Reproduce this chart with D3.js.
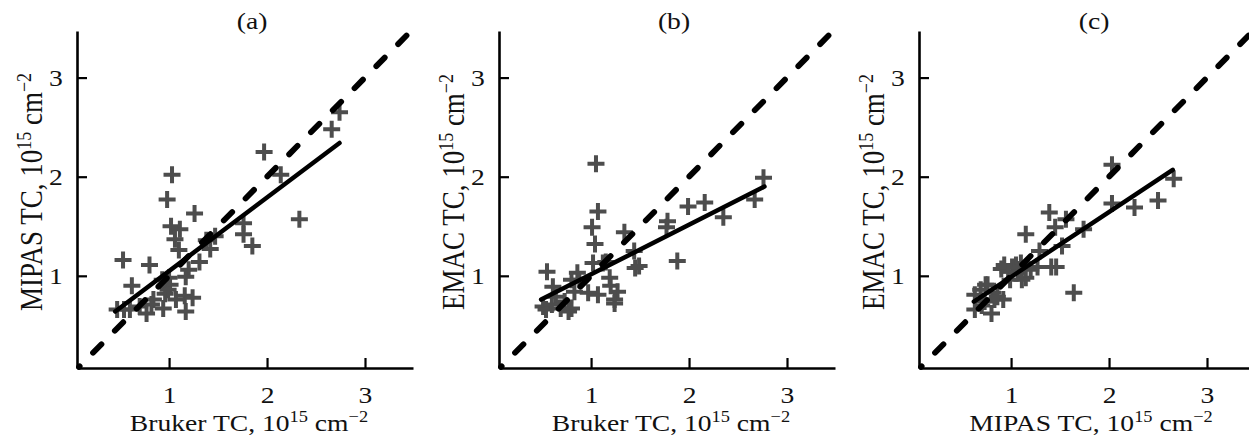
<!DOCTYPE html>
<html>
<head>
<meta charset="utf-8">
<script src="https://cdn.jsdelivr.net/npm/d3@7"></script>
<style>
  html, body { margin: 0; padding: 0; background: #fff; }
  svg { display: block; }
  text { font-family: "Liberation Serif", "Times New Roman", serif; fill: #111; }
</style>
</head>
<body>
<svg id="chart" width="1249" height="442"></svg>
<script>
// ---- data (values in 10^15 cm^-2) ----
const tickValues = [1, 2, 3];
const panelTitles = ["(a)", "(b)", "(c)"];
const xLabels = ["Bruker TC", "Bruker TC", "MIPAS TC"];
const yLabels = ["MIPAS TC", "EMAC TC", "EMAC TC"];

const pointsA = [
  [1.97,2.25],[2.14,2.02],[1.03,2.02],[0.98,1.77],[1.26,1.63],[2.33,1.57],[2.74,2.65],[2.66,2.48],
  [1.02,1.50],[1.11,1.47],[1.06,1.37],[1.10,1.26],[1.76,1.53],[1.76,1.42],[1.85,1.30],
  [1.38,1.36],[1.47,1.40],[1.42,1.27],[1.31,1.14],[1.20,1.06],[1.17,0.99],
  [0.53,1.16],[0.80,1.11],[0.62,0.90],[0.93,0.96],[1.01,0.91],[0.96,0.82],[0.84,0.76],
  [1.07,0.76],[1.16,0.80],[1.24,0.78],[1.17,0.64],[0.94,0.67],[0.77,0.62],[0.70,0.69],
  [0.60,0.66],[0.47,0.66],[0.54,0.66],[0.82,0.71],[0.99,0.86],[1.00,0.98]
];
const pointsB = [
  [1.05,2.13],[1.07,1.65],[1.01,1.49],[1.04,1.32],[1.34,1.44],[1.78,1.55],[1.77,1.49],[1.99,1.70],
  [2.16,1.74],[2.35,1.59],[2.76,1.99],[2.67,1.77],[1.88,1.15],[1.44,1.25],[1.45,1.08],[1.49,1.10],
  [1.15,1.14],[0.55,1.04],[1.02,1.13],[1.12,1.13],[0.86,1.03],[0.80,0.96],[1.19,0.98],[1.20,0.90],
  [1.27,0.84],[1.24,0.76],[1.07,0.81],[0.97,0.83],[0.83,0.84],[0.61,0.89],[0.64,0.79],[0.73,0.74],
  [0.80,0.67],[0.51,0.69],[0.54,0.66],[0.77,0.64],[0.69,0.67],[0.88,0.96],[1.24,0.72],[0.60,0.71]
];
const pointsC = [
  [2.03,2.12],[2.66,1.98],[2.03,1.73],[2.26,1.69],[2.50,1.76],[1.39,1.64],[1.15,1.42],[1.45,1.49],
  [1.56,1.57],[1.74,1.47],[1.52,1.30],[1.29,1.25],[1.64,0.83],[1.46,1.09],[1.41,1.09],[1.27,1.09],
  [1.20,1.06],[1.10,1.13],[1.05,1.11],[1.01,1.09],[0.93,1.11],[0.90,1.07],[0.97,1.04],[1.07,1.03],
  [1.15,0.98],[0.99,0.96],[1.11,0.96],[0.74,0.91],[0.69,0.86],[0.81,0.83],[0.92,0.76],[0.63,0.81],
  [0.63,0.66],[0.80,0.62],[0.73,0.74],[0.83,0.76],[0.76,0.91],[0.86,0.79],[0.70,0.70]
];
// regression line end points
const fitA = [[0.45,0.64],[2.74,2.34]];
const fitB = [[0.49,0.76],[2.77,1.90]];
const fitC = [[0.62,0.74],[2.65,2.07]];
// 1:1 line
const oneToOne = [[0.08,0.08],[3.46,3.46]];

const allPoints = [pointsA, pointsB, pointsC];
const allFits = [fitA, fitB, fitC];

// ---- layout ----
const lefts = [77, 499, 919];
const plotW = 336, plotTop = 31, plotBottom = 368;
const SX = 1.15; // horizontal text stretch
const fs = 24, fsSup = 16;
const fsY = 27, fsYSup = 18;

const svg = d3.select("#chart");

function addLabel(sel, main, big, sup) {
  const r = Math.round(big * 0.38);
  sel.append("tspan").text(main + ", 10");
  sel.append("tspan").attr("font-size", sup).attr("dy", -r).text("15");
  sel.append("tspan").attr("dy", r).text(" cm");
  sel.append("tspan").attr("font-size", sup).attr("dy", -r).text("\u22122");
}

allPoints.forEach((pts, i) => {
  const L = lefts[i];
  const x = d3.scaleLinear().domain([0.06, 3.49]).range([L, L + plotW]);
  const y = d3.scaleLinear().domain([0.07, 3.47]).range([plotBottom, plotTop]);
  const g = svg.append("g");

  // axes
  const xa = g.append("g").attr("transform", `translate(0,${plotBottom})`)
    .call(d3.axisBottom(x).tickValues(tickValues).tickSize(-10).tickSizeOuter(0).tickPadding(18).tickFormat(d3.format("d")));
  const ya = g.append("g").attr("transform", `translate(${L},0)`)
    .call(d3.axisLeft(y).tickValues(tickValues).tickSize(-10).tickSizeOuter(0).tickPadding(15).tickFormat(d3.format("d")));
  [xa, ya].forEach(a => {
    a.select(".domain").attr("stroke", "#000").attr("stroke-width", 2.6);
    a.selectAll(".tick line").attr("stroke", "#000").attr("stroke-width", 2.2);
    a.selectAll(".tick text").attr("font-size", fs).attr("font-family", "Liberation Serif").attr("fill", "#111");
  });
  xa.selectAll(".tick text").attr("text-anchor", "middle").attr("transform", `scale(${SX},1)`);
  ya.selectAll(".tick text").attr("x", 0).attr("text-anchor", "middle")
    .attr("transform", `translate(-21,0) scale(${SX},1)`);

  // markers
  g.append("g").selectAll("path").data(pts).join("path")
    .attr("transform", d => `translate(${x(d[0])},${y(d[1])})`)
    .attr("d", "M-8.5,0H8.5M0,-8.5V8.5")
    .attr("stroke", "#4d4d4d").attr("stroke-width", 4).attr("fill", "none");

  // 1:1 dashed line
  g.append("line")
    .attr("x1", x(oneToOne[0][0])).attr("y1", y(oneToOne[0][1]))
    .attr("x2", x(oneToOne[1][0])).attr("y2", y(oneToOne[1][1]))
    .attr("stroke", "#000").attr("stroke-width", 5.8)
    .attr("stroke-linecap", "round")
    .attr("stroke-dasharray", "12,19").attr("stroke-dashoffset", 11);

  // regression line
  const f = allFits[i];
  g.append("line")
    .attr("x1", x(f[0][0])).attr("y1", y(f[0][1]))
    .attr("x2", x(f[1][0])).attr("y2", y(f[1][1]))
    .attr("stroke", "#000").attr("stroke-width", 4.5).attr("stroke-linecap", "round");

  // title
  g.append("text").attr("font-size", fs).attr("text-anchor", "middle")
    .attr("transform", `translate(${L + 175},29) scale(${SX},1)`)
    .text(panelTitles[i]);

  // x label
  const xl = g.append("text").attr("font-size", fs).attr("text-anchor", "middle")
    .attr("transform", `translate(${L + 172},431) scale(${SX},1)`);
  addLabel(xl, xLabels[i], fs, fsSup);

  // y label
  const yl = g.append("text").attr("font-size", fsY).attr("text-anchor", "middle")
    .attr("transform", `translate(${L - 35},192) scale(${SX},1) rotate(-90)`);
  addLabel(yl, yLabels[i], fsY, fsYSup);
});
</script>
</body>
</html>
